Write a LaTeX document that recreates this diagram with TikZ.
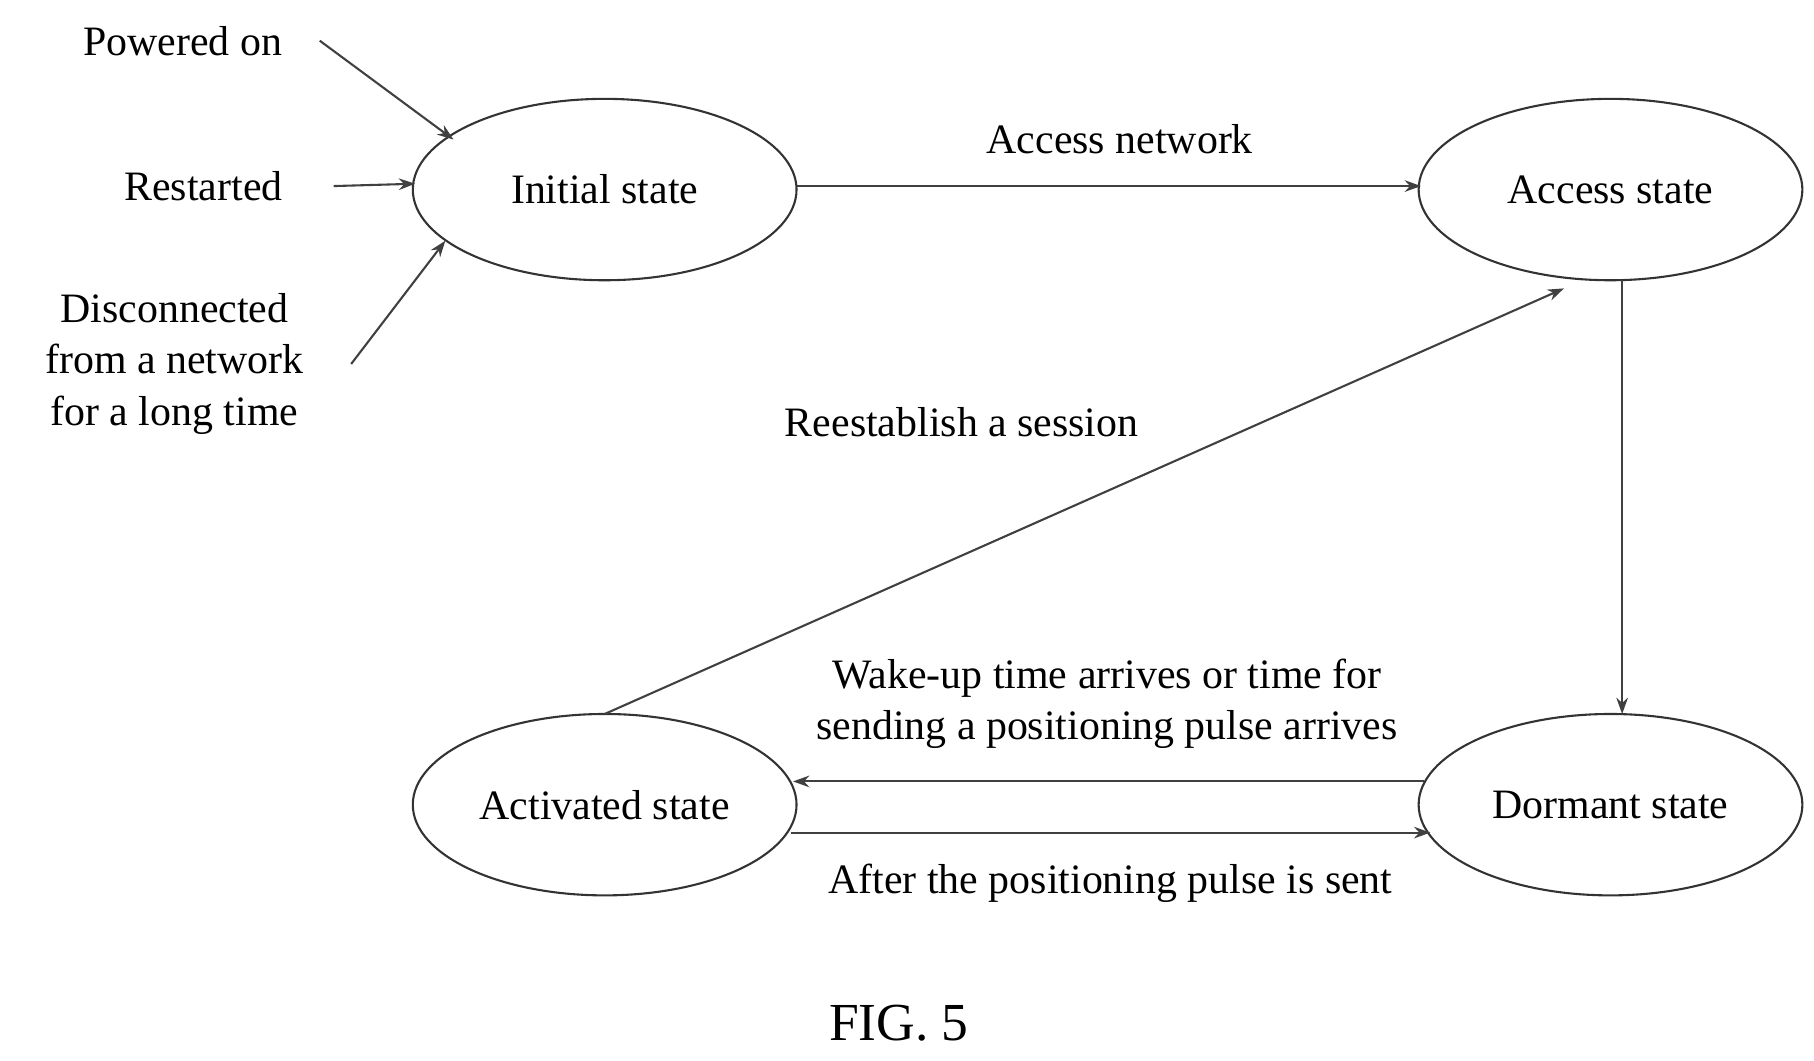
\documentclass[tikz,border=0pt]{standalone}
\usepackage{fontspec}
\setmainfont{Liberation Serif}
\usetikzlibrary{arrows.meta,shapes.geometric}
\begin{document}
\begin{tikzpicture}[x=0.5pt,y=-0.5pt,
  st/.style={draw=black!80,line width=0.9pt,ellipse,minimum width=165pt,minimum height=78pt,inner sep=0pt,font=\fontsize{18}{20}\selectfont},
  lb/.style={font=\fontsize{18}{20}\selectfont,align=center,inner sep=0pt},
  ar/.style={draw=black!75,line width=0.9pt,-{Stealth[length=7pt,width=5pt]}}]
\useasboundingbox (0,0) rectangle (1560,912);
\node[st] (ini) at (520,163) {Initial state};
\node[st] (acc) at (1385,163) {Access state};
\node[st] (act) at (520,692) {Activated state};
\node[st] (dor) at (1385,692) {Dormant state};
\node[lb] (pw) at (157,35) {Powered on};
\node[lb] (rs) at (175,160) {Restarted};
\node[lb,font=\fontsize{18}{22}\selectfont] (dc) at (150,313) {Disconnected\\from a network\\for a long time};
\coordinate (pwA) at (275,35); \coordinate (pwB) at (390,120);
\coordinate (rsA) at (287,160); \coordinate (rsB) at (357,158);
\coordinate (dcA) at (302,313); \coordinate (dcB) at (383,207);
\draw[ar] (pwA) -- (pwB);
\draw[ar] (rsA) -- (rsB);
\draw[ar] (dcA) -- (dcB);
\coordinate (a1) at (685,160); \coordinate (a2) at (1222,160);
\draw[ar] (a1) -- (a2);
\node[lb] (l1) at (963,120) {Access network};
\coordinate (b1) at (1395,241); \coordinate (b2) at (1395,614);
\draw[ar] (b1) -- (b2);
\coordinate (c1) at (520,614); \coordinate (c2) at (1345,248);
\draw[ar] (c1) -- (c2);
\node[lb] (l2) at (827,363) {Reestablish a session};
\coordinate (d1) at (1225,672); \coordinate (d2) at (682,672);
\draw[ar] (d1) -- (d2);
\node[lb,font=\fontsize{18}{22}\selectfont] (l3) at (952,605) {Wake-up time arrives or time for\\sending a positioning pulse arrives};
\coordinate (e1) at (680,716); \coordinate (e2) at (1230,716);
\draw[ar] (e1) -- (e2);
\node[lb] (l4) at (955,760) {After the positioning pulse is sent};
\node[lb,font=\fontsize{23}{26}\selectfont] (fig) at (773,880) {FIG. 5};
\end{tikzpicture}
\end{document}
